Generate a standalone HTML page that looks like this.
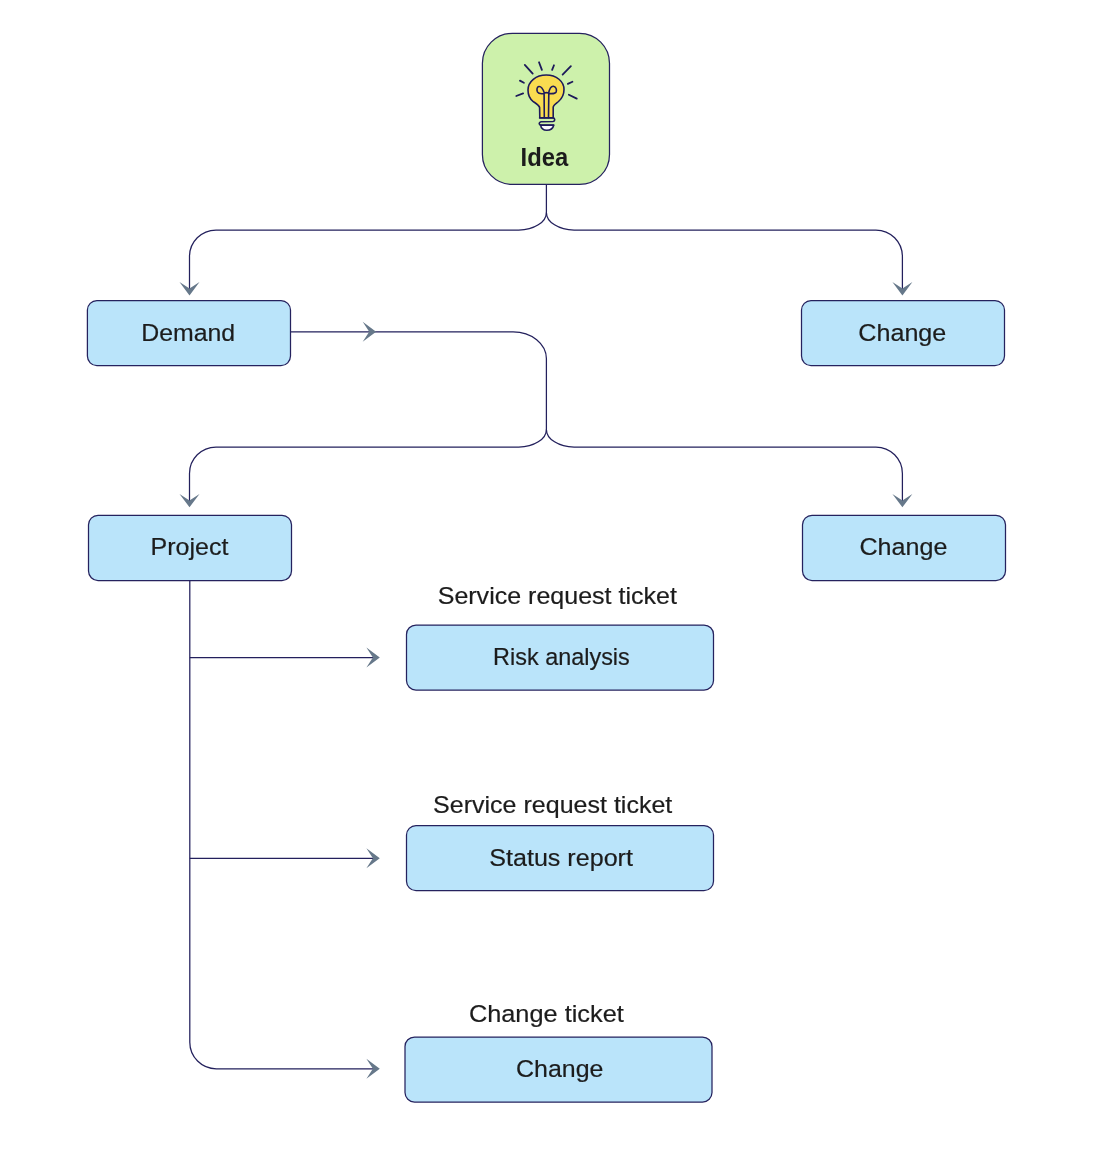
<!DOCTYPE html>
<html><head><meta charset="utf-8"><style>
html,body{margin:0;padding:0;background:#fff;width:1120px;height:1160px;overflow:hidden}
svg{display:block;will-change:transform}
text{font-family:"Liberation Sans",sans-serif}
</style></head><body>
<svg width="1120" height="1160" viewBox="0 0 1120 1160">
<path d="M546.4,184.4 L546.4,212.4 A27.7,17.6 0 0 1 518.6999999999999,230.0 L216.0,230.0 A26.5,26.5 0 0 0 189.5,256.5 L189.5,290" fill="none" stroke="#23205c" stroke-width="1.25"/><path d="M546.4,212.4 A27.7,17.6 0 0 0 574.1,230.0 L875.9,230.0 A26.5,26.5 0 0 1 902.4,256.5 L902.4,290" fill="none" stroke="#23205c" stroke-width="1.25"/><path d="M290.5,331.8 L513.1,331.8 A33.3,26.8 0 0 1 546.4,358.6 L546.4,429.4 A27.7,17.6 0 0 1 518.6999999999999,447.0 L216.0,447.0 A26.5,26.5 0 0 0 189.5,473.5 L189.5,502" fill="none" stroke="#23205c" stroke-width="1.25"/><path d="M546.4,429.4 A27.7,17.6 0 0 0 574.1,447.0 L875.9,447.0 A26.5,26.5 0 0 1 902.4,473.5 L902.4,502" fill="none" stroke="#23205c" stroke-width="1.25"/><path d="M189.8,580.5 L189.8,1042.25 A26.5,26.5 0 0 0 216.3,1068.75 L375,1068.75" fill="none" stroke="#23205c" stroke-width="1.25"/><path d="M189.8,657.5 L375,657.5" fill="none" stroke="#23205c" stroke-width="1.25"/><path d="M189.8,858.35 L375,858.35" fill="none" stroke="#23205c" stroke-width="1.25"/>
<path d="M189.5,295.4 L179.5,282.1 L189.5,288.6 L199.5,282.1 Z" fill="#66788a"/><path d="M902.4,295.4 L892.4,282.1 L902.4,288.6 L912.4,282.1 Z" fill="#66788a"/><path d="M376.1,331.8 L362.7,321.8 L369.2,331.8 L362.7,341.8 Z" fill="#66788a"/><path d="M189.5,507.2 L179.5,493.9 L189.5,500.4 L199.5,493.9 Z" fill="#66788a"/><path d="M902.4,507.2 L892.4,493.9 L902.4,500.4 L912.4,493.9 Z" fill="#66788a"/><path d="M379.8,657.5 L366.4,647.5 L372.9,657.5 L366.4,667.5 Z" fill="#66788a"/><path d="M379.8,858.35 L366.4,848.35 L372.9,858.35 L366.4,868.35 Z" fill="#66788a"/><path d="M379.8,1068.75 L366.4,1058.75 L372.9,1068.75 L366.4,1078.75 Z" fill="#66788a"/>
<rect x="482.4" y="33.3" width="127.1" height="151.1" rx="30" fill="#cdf1ab" stroke="#25225e" stroke-width="1.25"/><rect x="87.4" y="300.6" width="203.1" height="65.0" rx="9.5" fill="#bae4fa" stroke="#25225e" stroke-width="1.25"/><rect x="801.5" y="300.6" width="203.0" height="65.0" rx="9.5" fill="#bae4fa" stroke="#25225e" stroke-width="1.25"/><rect x="88.5" y="515.3" width="203.0" height="65.2" rx="9.5" fill="#bae4fa" stroke="#25225e" stroke-width="1.25"/><rect x="802.5" y="515.3" width="203.0" height="65.2" rx="9.5" fill="#bae4fa" stroke="#25225e" stroke-width="1.25"/><rect x="406.5" y="625.0" width="307.0" height="65.0" rx="9.5" fill="#bae4fa" stroke="#25225e" stroke-width="1.25"/><rect x="406.5" y="825.6" width="307.0" height="65.1" rx="9.5" fill="#bae4fa" stroke="#25225e" stroke-width="1.25"/><rect x="405.0" y="1037.0" width="307.0" height="65.0" rx="9.5" fill="#bae4fa" stroke="#25225e" stroke-width="1.25"/>
<g fill="none" stroke="#1d1a5a" stroke-width="1.6" stroke-linecap="round" stroke-linejoin="round">
<path d="M539.8,117.8 L539.6,107.5 C539.2,105.5 536,103.5 533,101.3 C529.5,98.5 528,94.5 528,90 C528,81.5 536,75 546.3,75 C556.5,75 564,81.5 564,89.5 C564,94.5 562,98.5 558.5,101.5 C556,103.5 553.5,105 553.2,107 L553.2,117.8 Z" fill="#f9dc50"/>
<path d="M544.3,117.6 L544.1,93.5 C542,93.8 538.5,93.8 537.4,91.8 C536.5,89.5 537,86.8 538.8,86.5 C541,86.2 543,89 544.3,93 C545.5,92.6 547.5,92.6 548.6,93 C549.5,89 551,86 553.3,86.2 C555.8,86.5 557,89.5 556.2,91.8 C555.3,93.6 551.5,93.8 548.8,93.5 L548.5,117.6"/>
<path d="M539.6,117.9 L553,117.9 C555.3,118.3 555.3,121.2 553,121.5 L541,121.8 C538.6,122.3 538.6,125 541,125.1 L553.6,125.1"/>
<path d="M540.6,125.2 C541.2,129 543.5,130.3 546.8,130.3 C550.3,130.3 552.8,129 553.7,125.2 Z" fill="#fbfbff"/>
<path d="M524.8,64.85 L532.7,73.65 M539.01,62.26 L541.89,69.94 M553.98,65.26 L552.12,69.94 M570.88,66.13 L562.62,74.67 M519.92,80.59 L523.88,82.81 M572.45,81.75 L567.85,83.85 M516.26,95.99 L523.14,93.41 M568.84,94.76 L576.76,98.64" stroke-width="1.8"/>
</g>
<g fill="#1c1c1c" stroke="#1c1c1c" stroke-width="0.2">
<text x="544.4" y="165.7" text-anchor="middle" font-size="25" font-weight="bold" textLength="47.6" lengthAdjust="spacingAndGlyphs" stroke-width="0">Idea</text><text x="188.2" y="341" text-anchor="middle" font-size="24.5" font-weight="normal" textLength="94.0" lengthAdjust="spacingAndGlyphs">Demand</text><text x="902.3" y="340.6" text-anchor="middle" font-size="24.5" font-weight="normal" textLength="88.0" lengthAdjust="spacingAndGlyphs">Change</text><text x="189.55" y="554.6" text-anchor="middle" font-size="24.5" font-weight="normal" textLength="77.9" lengthAdjust="spacingAndGlyphs">Project</text><text x="903.45" y="554.6" text-anchor="middle" font-size="24.5" font-weight="normal" textLength="87.9" lengthAdjust="spacingAndGlyphs">Change</text><text x="557.3" y="603.6" text-anchor="middle" font-size="24.5" font-weight="normal" textLength="239.2" lengthAdjust="spacingAndGlyphs">Service request ticket</text><text x="561.45" y="664.7" text-anchor="middle" font-size="24.5" font-weight="normal" textLength="136.7" lengthAdjust="spacingAndGlyphs">Risk analysis</text><text x="552.7" y="812.7" text-anchor="middle" font-size="24.5" font-weight="normal" textLength="239.2" lengthAdjust="spacingAndGlyphs">Service request ticket</text><text x="561.1" y="865.6" text-anchor="middle" font-size="24.5" font-weight="normal" textLength="143.6" lengthAdjust="spacingAndGlyphs">Status report</text><text x="546.35" y="1022.1" text-anchor="middle" font-size="24.5" font-weight="normal" textLength="154.9" lengthAdjust="spacingAndGlyphs">Change ticket</text><text x="559.7" y="1077.1" text-anchor="middle" font-size="24.5" font-weight="normal" textLength="87.4" lengthAdjust="spacingAndGlyphs">Change</text>
</g>
</svg>
</body></html>
